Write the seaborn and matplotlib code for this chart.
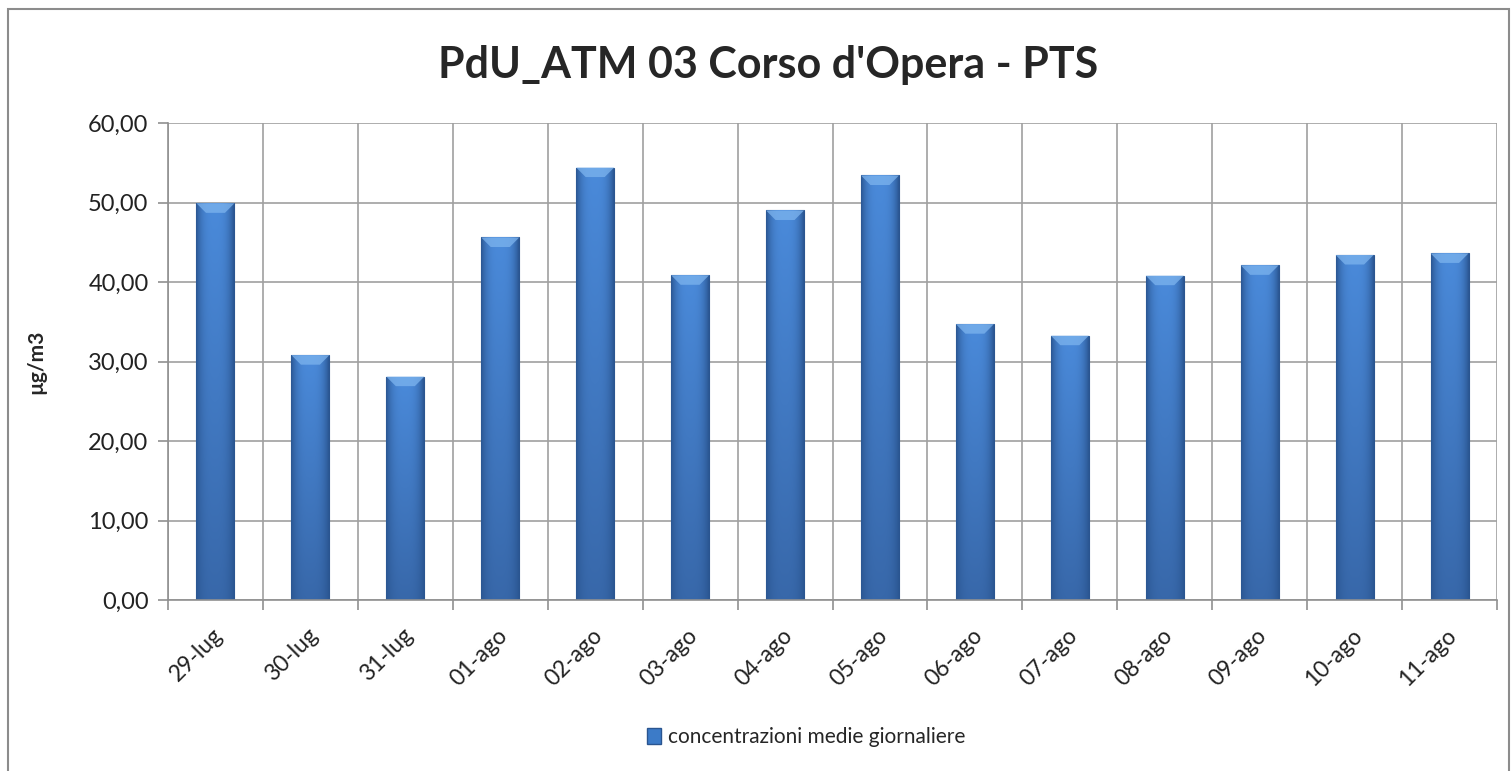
import matplotlib
matplotlib.use("Agg")
import matplotlib.pyplot as plt
import matplotlib.transforms as mtransforms
import seaborn as sns
import pandas as pd
import numpy as np
from matplotlib.patches import Rectangle, Patch
from matplotlib.colors import to_rgb
from matplotlib.ticker import FuncFormatter, MultipleLocator, FixedLocator

categories = ["29-lug", "30-lug", "31-lug", "01-ago", "02-ago", "03-ago", "04-ago",
              "05-ago", "06-ago", "07-ago", "08-ago", "09-ago", "10-ago", "11-ago"]
values = [49.9, 30.8, 28.1, 45.6, 54.4, 40.85, 49.0,
          53.4, 34.7, 33.25, 40.8, 42.1, 43.4, 43.6]
series_name = "concentrazioni medie giornaliere"
title = "PdU_ATM 03 Corso d'Opera - PTS"
ylabel = "µg/m3"

df = pd.DataFrame({"giorno": categories, "valore": values})

sns.set_style("white")
plt.rcParams["font.family"] = ["Lato", "DejaVu Sans"]

fig = plt.figure(figsize=(15.12, 7.71), dpi=100)
ax = fig.add_axes([168/1512, 1-600/771, (1497-168)/1512, (600-123)/771])

bar_color = "#3C7BC8"
sns.barplot(data=df, x="giorno", y="valore", ax=ax, color=bar_color, width=0.4,
            edgecolor="#2A5590", linewidth=0.8, saturation=1)

ax.set_xlim(-0.5, len(categories) - 0.5)
ax.set_ylim(0, 60)

# gradient shading inside each bar (styling only)
edge_c = np.array(to_rgb("#2B5793"))
center_top = np.array(to_rgb("#4A8ADA"))
center_bot = np.array(to_rgb("#3868AA"))
nx, ny = 64, 64
xs = np.linspace(-1, 1, nx)
prof = np.clip(1 - np.abs(xs) ** 3, 0, 1)
for p in list(ax.patches):
    x0, y0 = p.get_x(), p.get_y()
    w, h = p.get_width(), p.get_height()
    if h <= 0:
        continue
    ys = np.linspace(0, 1, ny)[:, None]
    center = center_bot[None, None, :] * (1 - ys[..., None]) + center_top[None, None, :] * ys[..., None]
    center = np.broadcast_to(center, (ny, nx, 3))
    img = edge_c[None, None, :] * (1 - prof[None, :, None]) + center * prof[None, :, None]
    im = ax.imshow(img, extent=(x0, x0 + w, y0, y0 + h), origin="lower",
                   aspect="auto", zorder=p.get_zorder() + 0.1, interpolation="bilinear")
    im.set_clip_path(p)
    bev = min(1.2, h * 0.05)
    ax.fill([x0, x0 + w, x0 + w * 0.75, x0 + w * 0.25], [y0 + h, y0 + h, y0 + h - bev, y0 + h - bev],
            color="#7DB4EE", alpha=0.75, zorder=p.get_zorder() + 0.2, lw=0)

ax.set_xlim(-0.5, len(categories) - 0.5)
ax.set_ylim(0, 60)
ax.yaxis.set_major_locator(MultipleLocator(10))
ax.yaxis.set_major_formatter(FuncFormatter(lambda v, p: f"{v:.2f}".replace(".", ",")))

ax.xaxis.set_minor_locator(FixedLocator([i + 0.5 for i in range(-1, len(categories))]))
ax.grid(True, which="major", axis="y", color="#A0A0A0", linewidth=1.2)
ax.grid(True, which="minor", axis="x", color="#A0A0A0", linewidth=1.2)
ax.grid(False, which="major", axis="x")
ax.set_axisbelow(True)

for s in ["top", "right"]:
    ax.spines[s].set_visible(False)
for s in ["left", "bottom"]:
    ax.spines[s].set_color("#909090")
    ax.spines[s].set_linewidth(1.2)

ax.tick_params(axis="y", which="major", length=7, width=1.2, color="#909090",
               labelsize=17, labelcolor="#222222", pad=7, left=True)
ax.tick_params(axis="x", which="major", length=0, labelsize=16.5, labelcolor="#222222", pad=23)
ax.tick_params(axis="x", which="minor", length=7, width=1.2, color="#909090", bottom=True)
offset = mtransforms.ScaledTranslation(4/100, 0, fig.dpi_scale_trans)
for lbl in ax.get_xticklabels():
    lbl.set_rotation(45)
    lbl.set_rotation_mode("anchor")
    lbl.set_ha("right")
    lbl.set_va("center")
    lbl.set_transform(lbl.get_transform() + offset)

ax.set_xlabel("")
ax.set_ylabel(ylabel, fontsize=15, fontweight="bold", labelpad=30)

fig.text(768/1512, 1-65/771, title, ha="center", va="center", fontsize=31, fontweight="bold")

handle = Patch(facecolor=bar_color, edgecolor="#2A5590")
fig.legend([handle], [series_name], loc="center", bbox_to_anchor=(806/1512, 1-737/771),
           frameon=False, fontsize=15, handlelength=0.7, handleheight=0.8, handletextpad=0.3)

fig.patches.append(Rectangle((8/1512, -0.01), (1509-8)/1512, 1-9/771 + 0.01,
                             transform=fig.transFigure, fill=False,
                             edgecolor="#8C8C8C", linewidth=1.5))

fig.savefig("out.png", dpi=100)
